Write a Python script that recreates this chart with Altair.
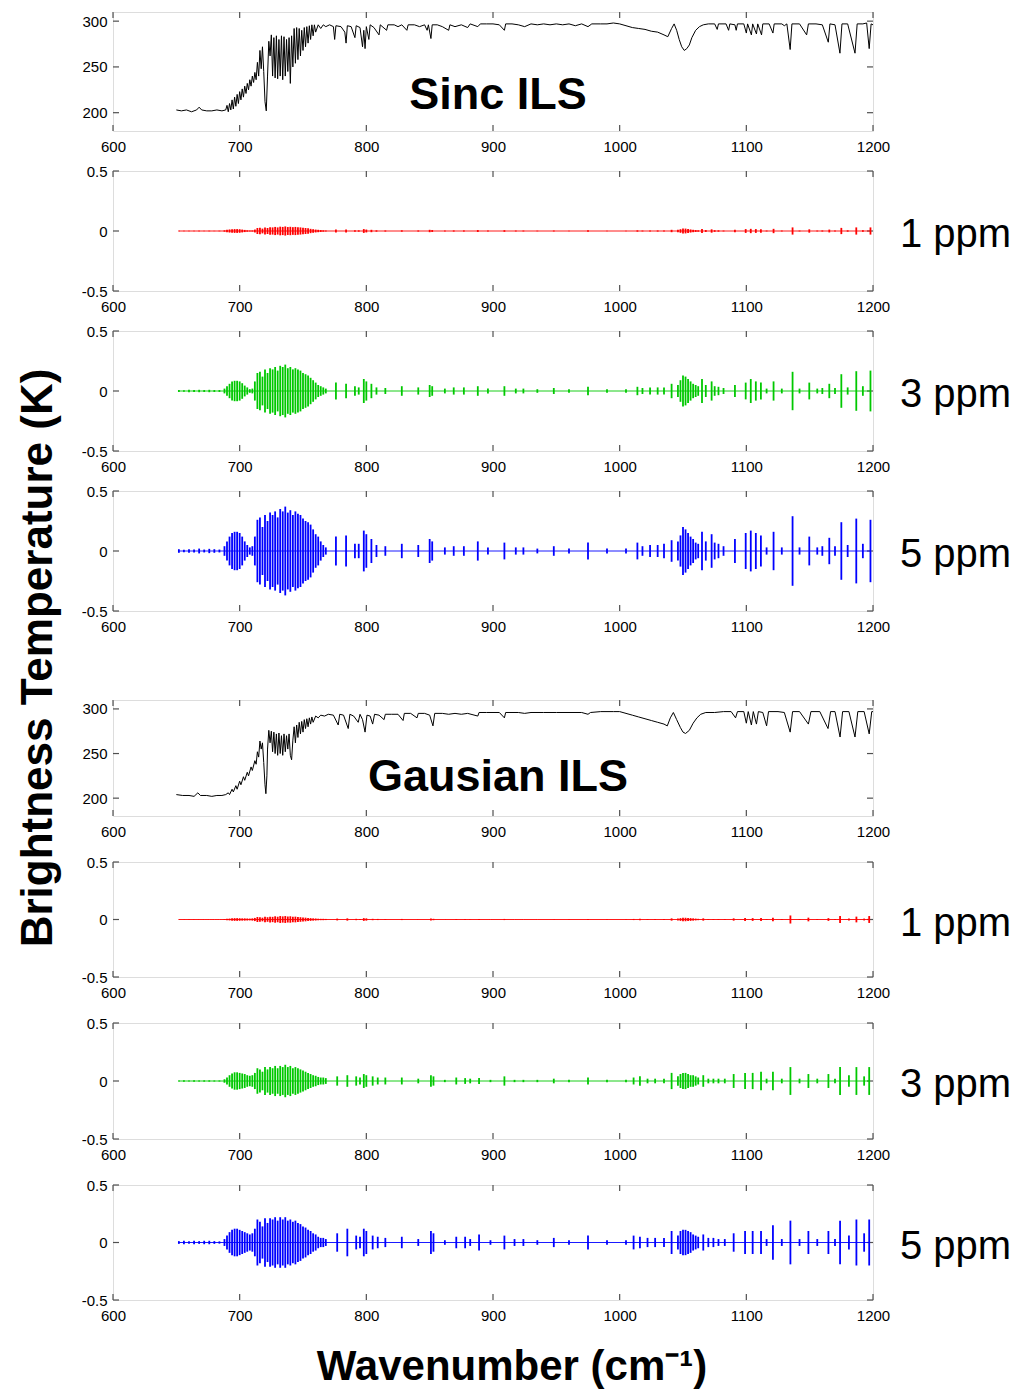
import altair as alt
import pandas as pd

FONT = "Liberation Sans"
FRAME = "#505050"
W = 760

WAVE_TICKS = [600, 700, 800, 900, 1000, 1100, 1200]
BT_TICKS = [200, 250, 300]
RES_TICKS = [-0.5, 0, 0.5]
BT_DOMAIN = [180, 310]
RES_DOMAIN = [-0.5, 0.5]

# ---- brightness temperature spectra (wavenumber, K) ----
sinc_bt = [
    (650, 203), (654, 202), (658, 203), (662, 201), (666, 203), (668, 206), (670, 203), (674, 202),
    (678, 202), (682, 203), (686, 202), (689, 203),
    (690, 208), (691, 201), (692, 210), (693, 203), (694, 214), (695, 204), (696, 217), (697, 207),
    (698, 220), (699, 210), (700, 223), (701, 214), (702, 226), (703, 217), (704, 229), (705, 221),
    (706, 232), (707, 225), (708, 236), (709, 229), (710, 240), (711, 233), (712, 244), (713, 236),
    (714, 255), (715, 240), (716, 268), (717, 248), (718, 272), (719, 245), (720, 212), (721, 202),
    (722, 240), (723, 278), (724, 262), (725, 285), (726, 240), (727, 282), (728, 238), (729, 284),
    (730, 237), (731, 280), (732, 240), (733, 284), (734, 236), (735, 283), (736, 240), (737, 280),
    (738, 245), (739, 282), (740, 232), (741, 284), (742, 250), (743, 292), (744, 254), (745, 293),
    (746, 258), (747, 292), (748, 262), (749, 290), (750, 268), (751, 293), (752, 272), (753, 294),
    (754, 276), (755, 295), (756, 280), (757, 296), (758, 284), (759, 296), (760, 288), (762, 296),
    (764, 292), (766, 296), (768, 294), (771, 296), (774, 294), (775, 280), (776, 295), (780, 294),
    (783, 288), (784, 276), (785, 295), (788, 294), (791, 282), (792, 295), (795, 293), (797, 272),
    (798, 290), (799, 270), (800, 294), (802, 280), (803, 296), (806, 293), (810, 285), (811, 296),
    (816, 290), (817, 296), (822, 296), (825, 294), (828, 296), (832, 290), (833, 296), (838, 296),
    (842, 294), (846, 296), (848, 290), (849, 296), (851, 281), (852, 296), (856, 296), (860, 294),
    (865, 290), (866, 296), (870, 294), (875, 296), (880, 293), (882, 297), (888, 294), (890, 297),
    (895, 297), (900, 297), (905, 296), (909, 290), (910, 297), (915, 297), (920, 296), (925, 294),
    (930, 297), (935, 296), (940, 297), (945, 296), (950, 297), (955, 296), (960, 297), (965, 295),
    (970, 297), (975, 294), (978, 297), (985, 297), (990, 297), (995, 298), (1000, 297), (1005, 295),
    (1010, 293), (1015, 292), (1020, 291), (1025, 289), (1030, 288), (1035, 285), (1038, 283),
    (1041, 292), (1043, 297), (1045, 290), (1047, 280), (1049, 272), (1051, 268), (1053, 270),
    (1055, 274), (1057, 282), (1060, 290), (1063, 294), (1066, 296), (1070, 297), (1075, 297),
    (1077, 291), (1078, 297), (1084, 297), (1086, 290), (1087, 297), (1091, 296), (1092, 290),
    (1093, 297), (1098, 297), (1100, 287), (1101, 297), (1104, 285), (1105, 297), (1108, 286),
    (1109, 297), (1112, 285), (1113, 297), (1118, 297), (1121, 287), (1122, 297), (1128, 297),
    (1130, 295), (1132, 297), (1134.6, 269), (1136, 297), (1142, 297), (1147.6, 285), (1149, 297),
    (1155, 297), (1160, 296), (1164.7, 277), (1166, 297), (1170, 296), (1173.9, 265), (1175.5, 297),
    (1180, 297), (1185.8, 265), (1187.5, 297), (1192, 297), (1195, 298), (1197, 270), (1198.5, 297),
    (1200, 296),
]

gaus_bt = [
    (650, 204), (655, 203), (660, 203), (664, 202), (667, 206), (669, 203), (674, 203), (678, 202),
    (682, 203), (686, 203), (689, 204),
    (691, 206), (692, 204), (694, 210), (695, 207), (697, 214), (698, 210), (700, 219), (701, 215),
    (703, 224), (704, 220), (706, 229), (707, 225), (709, 235), (710, 231), (712, 242), (713, 238),
    (714, 252), (715, 246), (716, 264), (717, 255), (718, 262), (719, 240), (720, 215), (720.7, 205),
    (721.5, 225), (722, 255), (723, 276), (724, 262), (725, 275), (726, 252), (727, 274), (728, 250),
    (729, 272), (730, 248), (731, 273), (732, 250), (733, 270), (734, 248), (735, 272), (736, 252),
    (737, 270), (738, 255), (739, 272), (740, 248), (741, 243), (742, 265), (743, 280), (744, 262),
    (745, 282), (746, 268), (747, 285), (748, 272), (749, 286), (750, 274), (751, 288), (752, 278),
    (753, 289), (754, 280), (755, 290), (756, 283), (757, 291), (758, 285), (760, 292), (762, 290),
    (764, 293), (767, 292), (770, 294), (774, 293), (777.8, 282), (779, 294), (782, 293),
    (785.7, 278), (787, 294), (790, 292), (793.6, 285), (795, 294), (797, 288), (799, 274),
    (800.5, 293), (803, 292), (805, 283), (806.5, 294), (810, 293), (814, 288), (815, 294),
    (820, 294), (825, 294), (829, 287), (830, 295), (835, 295), (840, 290), (841, 295), (846, 295),
    (850, 293), (852.6, 281), (854, 295), (860, 295), (865, 294), (870, 295), (875, 294), (880, 295),
    (888, 292), (889, 296), (895, 296), (900, 296), (905, 296), (909, 290), (910, 296), (915, 296),
    (920, 296), (925, 295), (930, 296), (940, 296), (950, 296), (960, 296), (970, 296), (975, 294),
    (977, 296), (985, 297), (995, 297), (1000, 297), (1005, 295), (1010, 293), (1015, 291),
    (1020, 289), (1025, 287), (1030, 285), (1035, 283), (1037.6, 281), (1040, 290), (1042.4, 296),
    (1045, 288), (1048, 279), (1050, 274), (1052, 272.5), (1055, 276), (1058, 284), (1061, 290),
    (1064, 294), (1068, 296), (1075, 296), (1082, 297), (1088, 297), (1091.5, 290), (1093, 297),
    (1098, 297), (1100, 284), (1101.5, 297), (1104, 282), (1105.5, 297), (1108, 283), (1109.5, 297),
    (1113, 296), (1116, 281), (1117.5, 297), (1125, 297), (1130, 296), (1134.6, 274), (1136.5, 297),
    (1142, 297), (1149, 283), (1151, 297), (1158, 297), (1164.5, 278), (1166.5, 297), (1170, 297),
    (1174, 268.5), (1176, 297), (1181, 297), (1185.8, 268.5), (1188, 297), (1193, 297), (1197, 272),
    (1199, 297), (1200, 297),
]

# ---- residual spike positions (wavenumber) ----
sinc_res_x = (
    [652, 656, 660, 664, 668, 672, 676, 680, 684]
    + [688, 690, 692, 694, 696, 698, 700, 702, 704, 706, 708, 710]
    + [712, 714, 716, 718, 720, 722, 724, 726, 728, 730, 732, 734, 736, 738, 740, 742, 744, 746,
       748, 750, 752, 754, 756, 758, 760, 762, 764, 766, 768]
    + [776, 784, 791, 794, 798, 800, 804, 808, 815, 828, 841, 850, 852, 862, 869, 877, 888, 896,
       909, 918, 924, 935, 948, 960, 975, 990, 1005, 1014, 1018, 1024, 1030, 1035, 1041]
    + [1046, 1048, 1050, 1052, 1054, 1056, 1058, 1060, 1062]
    + [1065, 1068, 1072.6, 1075, 1078, 1082, 1091, 1099.5, 1103.5, 1107.5, 1111.5, 1116, 1121.5,
       1128, 1136.5, 1142, 1149.7, 1156, 1160, 1165.5, 1170, 1175, 1180, 1186.8, 1192, 1198]
)

# half amplitudes (K)
sinc_1ppm = (
    [0.003, 0.002, 0.003, 0.002, 0.003, 0.002, 0.003, 0.002, 0.003]
    + [0.006, 0.01, 0.013, 0.015, 0.016, 0.016, 0.015, 0.012, 0.009, 0.006, 0.004, 0.005]
    + [0.012, 0.025, 0.028, 0.02, 0.03, 0.025, 0.032, 0.03, 0.034, 0.03, 0.036, 0.034, 0.038,
       0.033, 0.035, 0.032, 0.034, 0.032, 0.03, 0.027, 0.025, 0.022, 0.018, 0.015, 0.012, 0.01,
       0.008, 0.006, 0.004]
    + [0.012, 0.012, 0.006, 0.006, 0.016, 0.012, 0.01, 0.006, 0.005, 0.006, 0.005, 0.01, 0.008,
       0.004, 0.005, 0.005, 0.008, 0.004, 0.007, 0.004, 0.004, 0.003, 0.004, 0.003, 0.006, 0.003,
       0.003, 0.006, 0.004, 0.005, 0.005, 0.005, 0.01]
    + [0.01, 0.015, 0.02, 0.02, 0.016, 0.013, 0.01, 0.008, 0.006]
    + [0.016, 0.008, 0.014, 0.007, 0.006, 0.004, 0.01, 0.016, 0.018, 0.016, 0.014, 0.004, 0.018,
       0.004, 0.03, 0.004, 0.014, 0.004, 0.005, 0.012, 0.005, 0.026, 0.006, 0.03, 0.007, 0.03]
)
sinc_3ppm = (
    [0.008, 0.006, 0.01, 0.008, 0.01, 0.008, 0.01, 0.008, 0.008]
    + [0.02, 0.04, 0.06, 0.08, 0.085, 0.085, 0.08, 0.065, 0.045, 0.03, 0.015, 0.02]
    + [0.08, 0.15, 0.16, 0.12, 0.18, 0.15, 0.19, 0.18, 0.2, 0.17, 0.21, 0.2, 0.22, 0.19, 0.2,
       0.18, 0.19, 0.18, 0.17, 0.15, 0.14, 0.13, 0.11, 0.09, 0.07, 0.05, 0.04, 0.03, 0.02]
    + [0.07, 0.06, 0.04, 0.03, 0.1, 0.08, 0.06, 0.03, 0.025, 0.04, 0.03, 0.05, 0.04, 0.02, 0.03,
       0.03, 0.04, 0.02, 0.04, 0.02, 0.02, 0.015, 0.025, 0.015, 0.035, 0.015, 0.015, 0.035, 0.025,
       0.03, 0.03, 0.03, 0.06]
    + [0.05, 0.09, 0.13, 0.12, 0.1, 0.08, 0.06, 0.05, 0.04]
    + [0.1, 0.05, 0.08, 0.04, 0.035, 0.025, 0.05, 0.07, 0.1, 0.08, 0.07, 0.02, 0.08, 0.02, 0.16,
       0.02, 0.07, 0.02, 0.025, 0.06, 0.025, 0.14, 0.03, 0.165, 0.04, 0.17]
)
sinc_5ppm = (
    [0.015, 0.01, 0.015, 0.012, 0.02, 0.012, 0.018, 0.015, 0.012]
    + [0.04, 0.08, 0.12, 0.15, 0.16, 0.16, 0.15, 0.12, 0.08, 0.05, 0.03, 0.04]
    + [0.12, 0.26, 0.28, 0.2, 0.3, 0.25, 0.32, 0.3, 0.33, 0.28, 0.35, 0.33, 0.37, 0.32, 0.34,
       0.3, 0.33, 0.31, 0.3, 0.27, 0.25, 0.24, 0.22, 0.18, 0.14, 0.12, 0.08, 0.05, 0.03]
    + [0.12, 0.13, 0.06, 0.06, 0.17, 0.14, 0.1, 0.05, 0.04, 0.06, 0.05, 0.1, 0.08, 0.03, 0.04,
       0.04, 0.08, 0.03, 0.07, 0.03, 0.03, 0.02, 0.04, 0.02, 0.07, 0.02, 0.02, 0.07, 0.04, 0.05,
       0.05, 0.06, 0.09]
    + [0.08, 0.13, 0.2, 0.18, 0.15, 0.12, 0.1, 0.07, 0.06]
    + [0.16, 0.08, 0.14, 0.07, 0.06, 0.04, 0.1, 0.15, 0.17, 0.15, 0.13, 0.03, 0.16, 0.03, 0.29,
       0.03, 0.12, 0.03, 0.04, 0.11, 0.04, 0.24, 0.05, 0.27, 0.06, 0.26]
)

gaus_res_x = (
    [652, 656, 660, 664, 668, 672, 676, 680, 684]
    + [688, 690, 692, 694, 696, 698, 700, 702, 704, 706, 708, 710]
    + [712, 714, 716, 718, 720, 722, 724, 726, 728, 730, 732, 734, 736, 738, 740, 742, 744, 746,
       748, 750, 752, 754, 756, 758, 760, 762, 764, 766, 768]
    + [777, 785, 792, 795, 798, 800, 805, 809, 815, 828, 841, 851, 853, 862, 871, 878, 882, 889,
       898, 909, 917, 924, 935, 948, 960, 975, 990, 1005, 1011, 1016, 1022, 1028, 1035, 1041]
    + [1046, 1048, 1050, 1052, 1054, 1056, 1058, 1060, 1062]
    + [1066, 1070, 1074, 1078, 1083, 1090, 1099, 1105, 1111.6, 1116, 1121, 1128, 1134.8, 1142,
       1149, 1156, 1164.8, 1170, 1174, 1181, 1186.9, 1193, 1197]
)

gaus_1ppm = (
    [0.002, 0.002, 0.002, 0.002, 0.002, 0.002, 0.002, 0.002, 0.002]
    + [0.004, 0.006, 0.008, 0.01, 0.012, 0.012, 0.011, 0.01, 0.01, 0.009, 0.008, 0.01]
    + [0.014, 0.022, 0.02, 0.016, 0.024, 0.02, 0.025, 0.023, 0.028, 0.024, 0.03, 0.027, 0.03,
       0.026, 0.028, 0.024, 0.025, 0.022, 0.02, 0.018, 0.016, 0.014, 0.012, 0.01, 0.009, 0.007,
       0.006, 0.006, 0.005]
    + [0.008, 0.01, 0.006, 0.005, 0.012, 0.01, 0.006, 0.005, 0.004, 0.005, 0.003, 0.008, 0.006,
       0.002, 0.004, 0.004, 0.003, 0.005, 0.002, 0.005, 0.002, 0.002, 0.002, 0.003, 0.002, 0.005,
       0.002, 0.002, 0.005, 0.006, 0.004, 0.004, 0.004, 0.01]
    + [0.008, 0.012, 0.015, 0.015, 0.013, 0.012, 0.01, 0.008, 0.006]
    + [0.01, 0.004, 0.004, 0.004, 0.004, 0.01, 0.012, 0.012, 0.014, 0.004, 0.016, 0.004, 0.035,
       0.004, 0.016, 0.004, 0.012, 0.004, 0.03, 0.008, 0.025, 0.008, 0.03]
)
gaus_3ppm = (
    [0.005, 0.006, 0.005, 0.006, 0.005, 0.006, 0.006, 0.005, 0.005]
    + [0.015, 0.03, 0.05, 0.065, 0.075, 0.075, 0.07, 0.065, 0.06, 0.05, 0.045, 0.05]
    + [0.07, 0.11, 0.1, 0.08, 0.12, 0.1, 0.12, 0.11, 0.13, 0.11, 0.13, 0.12, 0.14, 0.12, 0.13,
       0.11, 0.12, 0.11, 0.1, 0.09, 0.08, 0.07, 0.06, 0.05, 0.045, 0.035, 0.03, 0.03, 0.025]
    + [0.04, 0.05, 0.04, 0.03, 0.06, 0.05, 0.04, 0.03, 0.03, 0.03, 0.02, 0.05, 0.04, 0.01, 0.03,
       0.025, 0.02, 0.025, 0.01, 0.04, 0.01, 0.01, 0.01, 0.02, 0.01, 0.03, 0.01, 0.01, 0.03, 0.04,
       0.02, 0.02, 0.02, 0.07]
    + [0.04, 0.06, 0.07, 0.07, 0.06, 0.05, 0.05, 0.04, 0.03]
    + [0.05, 0.02, 0.02, 0.02, 0.02, 0.06, 0.07, 0.07, 0.08, 0.02, 0.08, 0.02, 0.12, 0.02, 0.06,
       0.02, 0.06, 0.02, 0.12, 0.05, 0.12, 0.04, 0.12]
)
gaus_5ppm = (
    [0.012, 0.015, 0.01, 0.015, 0.012, 0.015, 0.015, 0.012, 0.01]
    + [0.03, 0.06, 0.09, 0.11, 0.12, 0.12, 0.11, 0.1, 0.09, 0.08, 0.07, 0.08]
    + [0.12, 0.2, 0.18, 0.14, 0.21, 0.17, 0.21, 0.2, 0.22, 0.19, 0.22, 0.2, 0.22, 0.19, 0.2,
       0.18, 0.19, 0.17, 0.16, 0.14, 0.13, 0.11, 0.1, 0.08, 0.07, 0.05, 0.04, 0.04, 0.03]
    + [0.08, 0.12, 0.06, 0.05, 0.12, 0.1, 0.06, 0.05, 0.04, 0.05, 0.03, 0.1, 0.08, 0.02, 0.05,
       0.05, 0.03, 0.07, 0.02, 0.06, 0.03, 0.03, 0.02, 0.04, 0.02, 0.06, 0.02, 0.02, 0.06, 0.05,
       0.04, 0.04, 0.04, 0.1]
    + [0.06, 0.1, 0.11, 0.11, 0.1, 0.09, 0.07, 0.06, 0.05]
    + [0.07, 0.04, 0.04, 0.03, 0.03, 0.08, 0.1, 0.1, 0.1, 0.03, 0.15, 0.03, 0.19, 0.03, 0.1,
       0.03, 0.1, 0.03, 0.19, 0.06, 0.2, 0.08, 0.2]
)

for name, xs, amps in [("sinc_1ppm", sinc_res_x, sinc_1ppm), ("sinc_3ppm", sinc_res_x, sinc_3ppm),
                       ("sinc_5ppm", sinc_res_x, sinc_5ppm), ("gaus_1ppm", gaus_res_x, gaus_1ppm),
                       ("gaus_3ppm", gaus_res_x, gaus_3ppm), ("gaus_5ppm", gaus_res_x, gaus_5ppm)]:
    if len(xs) != len(amps):
        raise ValueError(f"{name}: {len(xs)} positions vs {len(amps)} amplitudes")

LABEL_EXPR = "datum.value < 0 ? '-' + format(-datum.value, '~g') : format(datum.value, '~g')"


def x_enc():
    return alt.X(
        "x:Q",
        scale=alt.Scale(domain=[600, 1200], nice=False, zero=False),
        axis=alt.Axis(values=WAVE_TICKS, title=None, tickSize=0, domain=False, grid=False,
                      labelFontSize=15, labelPadding=8, labelColor="black", labelFlush=False,
                      labelOverlap=False, labelFont=FONT, format="d"),
    )


def y_enc(field, domain, ticks):
    return alt.Y(
        field,
        scale=alt.Scale(domain=domain, nice=False, zero=False),
        axis=alt.Axis(values=ticks, title=None, tickSize=0, domain=False, grid=False,
                      labelFontSize=15, labelPadding=6, labelColor="black", labelFlush=False,
                      labelOverlap=False, labelFont=FONT, labelExpr=LABEL_EXPR),
    )


def frame_ticks(h, domain, ticks):
    xt = alt.Chart(pd.DataFrame({"x": WAVE_TICKS}))
    yt = alt.Chart(pd.DataFrame({"y": ticks}))
    return [
        xt.mark_rule(color=FRAME, strokeWidth=1.2).encode(x=x_enc(), y=alt.value(h), y2=alt.value(h - 6)),
        xt.mark_rule(color=FRAME, strokeWidth=1.2).encode(x=x_enc(), y=alt.value(0), y2=alt.value(6)),
        yt.mark_rule(color=FRAME, strokeWidth=1.2).encode(y=y_enc("y:Q", domain, ticks), x=alt.value(0), x2=alt.value(6)),
        yt.mark_rule(color=FRAME, strokeWidth=1.2).encode(y=y_enc("y:Q", domain, ticks), x=alt.value(W), x2=alt.value(W - 6)),
    ]


def text_layer(txt, x, y, size, bold=False, align="center", angle=None):
    kw = dict(align=align, baseline="alphabetic", fontSize=size, font=FONT, color="black",
              fontWeight="bold" if bold else "normal")
    if angle is not None:
        kw["angle"] = angle
    return alt.Chart(pd.DataFrame({"t": [txt]})).mark_text(**kw).encode(
        text="t:N", x=alt.value(x), y=alt.value(y))


def bt_panel(points, h, title, title_y):
    df = pd.DataFrame(points, columns=["x", "bt"])
    line = alt.Chart(df).mark_line(color="black", strokeWidth=1.0).encode(
        x=x_enc(), y=y_enc("bt:Q", BT_DOMAIN, BT_TICKS))
    layers = frame_ticks(h, BT_DOMAIN, BT_TICKS) + [line, text_layer(title, 385, title_y, 45, bold=True)]
    return alt.layer(*layers).properties(width=W, height=h)


def res_panel(xs, amps, color, label, h, extra=None):
    df = pd.DataFrame({"x": xs, "amp": amps})
    base = alt.Chart(df)
    zero = base.transform_calculate(zero="0").mark_line(color=color, strokeWidth=0.9).encode(
        x=x_enc(), y=y_enc("zero:Q", RES_DOMAIN, RES_TICKS))
    spikes = base.transform_calculate(lo="-datum.amp").mark_rule(color=color, strokeWidth=1.8).encode(
        x=x_enc(), y=y_enc("lo:Q", RES_DOMAIN, RES_TICKS), y2="amp:Q")
    layers = frame_ticks(h, RES_DOMAIN, RES_TICKS) + [
        zero, spikes, text_layer(label, W + 27, h / 2 + 16, 40, align="left")]
    if extra:
        layers += extra
    return alt.layer(*layers).properties(width=W, height=h)


def spacer(h):
    return (alt.Chart(pd.DataFrame({"a": [0]})).mark_point(opacity=0)
            .encode(x=alt.value(0), y=alt.value(0))
            .properties(width=W, height=h, view=alt.ViewBackground(stroke="transparent")))


RED, GREEN, BLUE = "#ff0000", "#00c800", "#0000ff"

p1 = bt_panel(sinc_bt, 119, "Sinc ILS", 97)
p2 = res_panel(sinc_res_x, sinc_1ppm, RED, "1 ppm", 120)
p3 = res_panel(sinc_res_x, sinc_3ppm, GREEN, "3 ppm", 120)
p4 = res_panel(sinc_res_x, sinc_5ppm, BLUE, "5 ppm", 120,
               extra=[text_layer("Brightness Temperature (K)", -61, 167, 44, bold=True, angle=270)])

p5 = bt_panel(gaus_bt, 116, "Gausian ILS", 91)
p6 = res_panel(gaus_res_x, gaus_1ppm, RED, "1 ppm", 115)
p7 = res_panel(gaus_res_x, gaus_3ppm, GREEN, "3 ppm", 116)
p8 = res_panel(gaus_res_x, gaus_5ppm, BLUE, "5 ppm", 115,
               extra=[text_layer("Wavenumber (cm⁻¹)", 399, 195, 42, bold=True)])

chart = (
    alt.vconcat(p1, spacer(40), p2, spacer(40), p3, spacer(40), p4, spacer(89),
                p5, spacer(46), p6, spacer(46), p7, spacer(46), p8,
                spacing=0, bounds="flush")
    .properties(padding={"left": 16, "top": 10, "right": 5, "bottom": 2}, background="white")
    .configure_view(stroke=FRAME, strokeWidth=1.2)
    .configure(font=FONT)
)

chart.save("out.html", embed_options={"renderer": "svg", "actions": False})
